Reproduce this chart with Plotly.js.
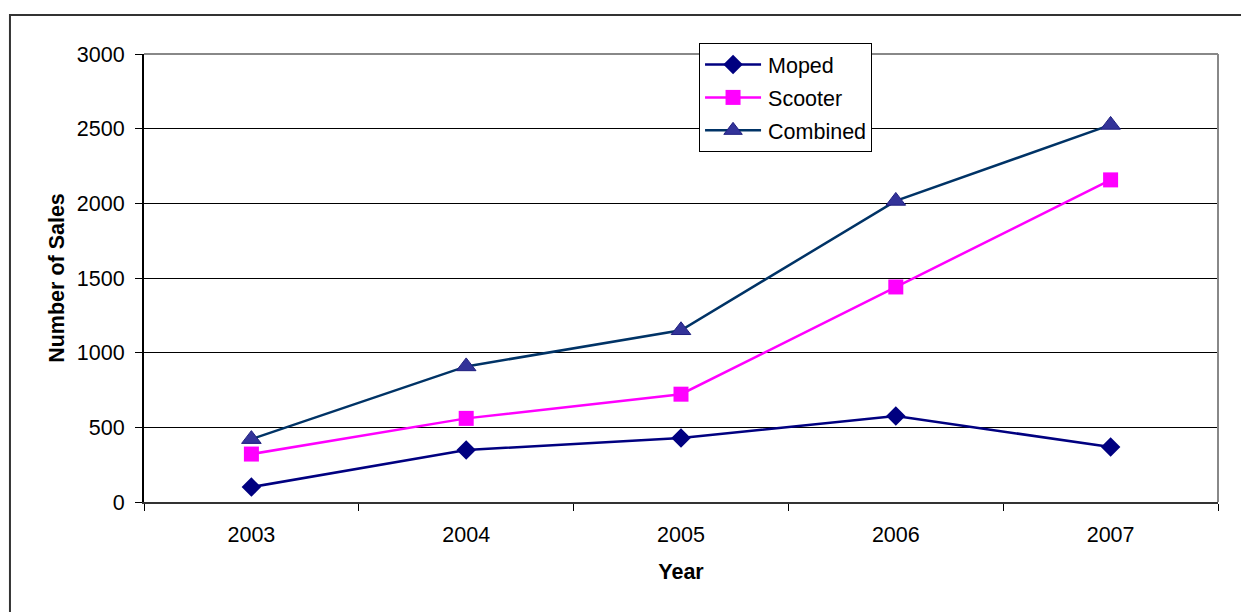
<!DOCTYPE html>
<html>
<head>
<meta charset="utf-8">
<script src="https://cdn.plot.ly/plotly-3.0.1.min.js"></script>
<style>
  html, body { margin: 0; padding: 0; background: #fff; }
  #chart { width: 1241px; height: 612px; }
</style>
</head>
<body>
<div id="chart"></div>
<script>
// Yearly unit sales
const years = ['2003', '2004', '2005', '2006', '2007'];
const moped = [100, 348, 428, 576, 368];
const scooter = [321, 560, 722, 1440, 2157];
const combined = [421, 908, 1150, 2016, 2525];

const FONT = 'Liberation Sans, Arial, sans-serif';
const FS = 21.5;

const traces = [
  {
    x: years, y: moped, name: 'Moped', type: 'scatter', mode: 'lines+markers',
    legendgroup: 'a',
    line: { color: '#000080', width: 2.5 },
    marker: { symbol: 'diamond', size: 15, color: '#000080' }
  },
  {
    x: years, y: scooter, name: 'Scooter', type: 'scatter', mode: 'lines+markers',
    legendgroup: 'b',
    line: { color: '#FF00FF', width: 2.5 },
    marker: { symbol: 'square', size: 15, color: '#FF00FF' }
  },
  {
    x: years, y: combined, name: 'Combined', type: 'scatter', mode: 'lines+markers',
    legendgroup: 'c',
    line: { color: '#003366', width: 2.5 },
    marker: { symbol: 'triangle-up', size: 17, color: '#333399', line: { color: '#1f1f80', width: 1 } }
  }
];

const layout = {
  width: 1241, height: 612,
  margin: { l: 144, r: 23, t: 54, b: 110 },
  paper_bgcolor: '#ffffff',
  plot_bgcolor: '#ffffff',
  font: { family: FONT, size: FS, color: '#000' },
  showlegend: true,
  legend: {
    x: 0.5168, y: 1.0246, xanchor: 'left', yanchor: 'top',
    bgcolor: '#ffffff', bordercolor: '#000', borderwidth: 1,
    font: { family: FONT, size: FS, color: '#000' },
    itemwidth: 58,
    tracegroupgap: 2
  },
  xaxis: {
    type: 'category',
    range: [-0.5, 4.5],
    tickson: 'boundaries',
    ticks: 'outside', ticklen: 7, tickcolor: '#000', tickwidth: 1,
    showline: true, linecolor: '#333', linewidth: 2,
    showgrid: false, zeroline: false,
    ticklabelstandoff: 12,
    tickfont: { family: FONT, size: FS, color: '#000' },
    title: { text: '<b>Year</b>', font: { family: FONT, size: FS, color: '#000' }, standoff: 18 },
    fixedrange: true
  },
  yaxis: {
    range: [0, 3000], dtick: 500,
    ticks: 'outside', ticklen: 7, tickcolor: '#000', tickwidth: 1,
    showline: true, linecolor: '#000', linewidth: 2,
    showgrid: true, gridcolor: '#000', gridwidth: 1,
    zeroline: false,
    ticklabelstandoff: 6,
    tickfont: { family: FONT, size: FS, color: '#000' },
    title: { text: '<b>Number of Sales</b>', font: { family: FONT, size: FS, color: '#000' }, standoff: 6 },
    fixedrange: true
  },
  shapes: [
    // plot area frame: top and right edges in gray
    { type: 'line', xref: 'paper', yref: 'paper', x0: 0, x1: 1, y0: 1, y1: 1, line: { color: '#888', width: 2 } },
    { type: 'line', xref: 'paper', yref: 'paper', x0: 1, x1: 1, y0: 0, y1: 1, line: { color: '#888', width: 2 } },
    // outer chart frame
    { type: 'rect', xref: 'paper', yref: 'paper', x0: -0.1248, x1: 1.03, y0: -0.27, y1: 1.0871,
      line: { color: '#333', width: 2 }, layer: 'below' }
  ]
};

Plotly.newPlot('chart', traces, layout, { displayModeBar: false, staticPlot: true }).then(function (gd) {
  // stretch the legend line samples across the wider symbol column
  gd.querySelectorAll('.legend .legendlines path').forEach(function (p) {
    p.setAttribute('d', 'M5,0h56');
  });
  gd.querySelectorAll('.legend .legendpoints path.scatterpts').forEach(function (p) {
    p.setAttribute('transform', 'translate(33,0)');
  });
});
</script>
</body>
</html>
